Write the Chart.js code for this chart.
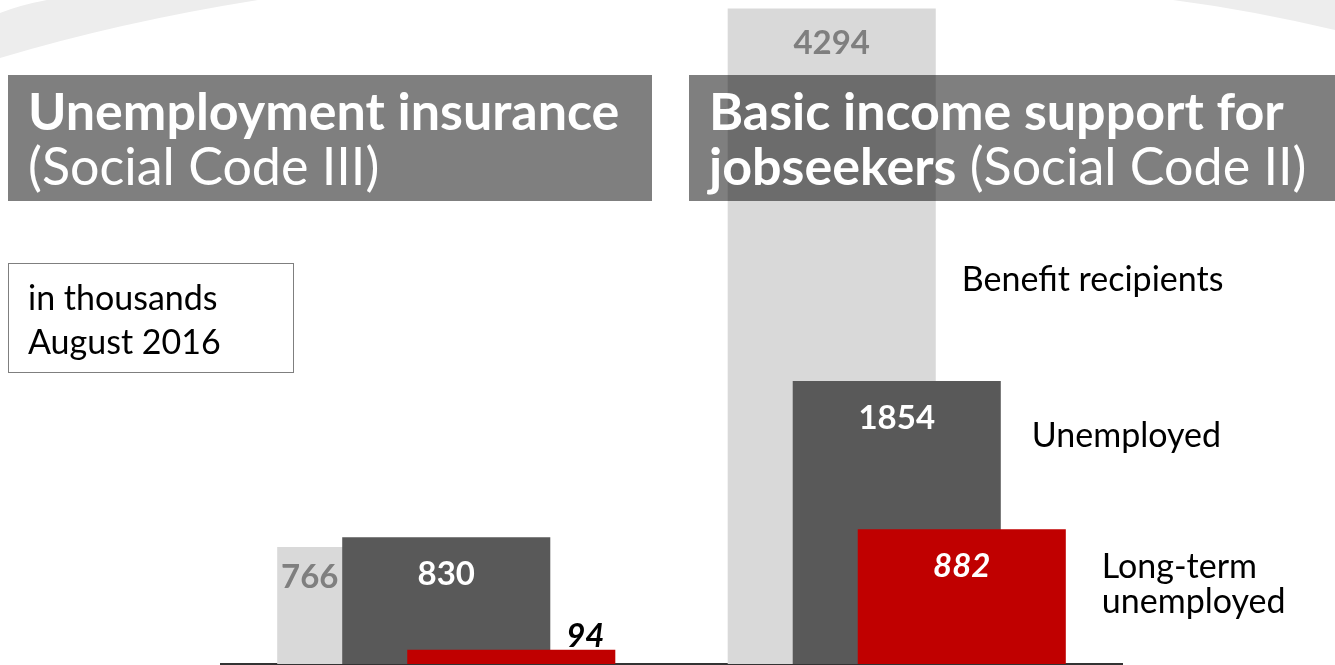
<!DOCTYPE html>
<html>
<head>
<meta charset="utf-8">
<script src="https://cdn.jsdelivr.net/npm/chart.js@4/dist/chart.umd.min.js"></script>
<style>
  body { margin: 0; background: #fff; font-family: Lato, "Open Sans", sans-serif; }
  #wrap { position: relative; width: 1335px; height: 665px; overflow: hidden; }
  #chart { position: absolute; left: 0; top: 0; }
  .title-box {
    position: absolute; top: 75px; height: 126px;
    background: rgba(0, 0, 0, 0.5); color: #fff;
    font-size: 52px; line-height: 55px; box-sizing: border-box;
    padding: 8px 0 0 20px; white-space: nowrap;
  }
  .title-box b { font-weight: 700; }
  #box-left { left: 8px; width: 644px; }
  #box-right { left: 689px; width: 646px; }
  #note {
    position: absolute; left: 8px; top: 263px; width: 286px; height: 110px;
    border: 1px solid #7f7f7f; box-sizing: border-box;
    font-size: 34px; line-height: 44px; color: #000; padding: 11px 0 0 19px;
  }
</style>
</head>
<body>
<div id="wrap">
  <canvas id="chart" width="1335" height="665"></canvas>
  <div class="title-box" id="box-left"><b>Unemployment insurance</b><br>(Social Code III)</div>
  <div class="title-box" id="box-right"><b>Basic income support for<br>jobseekers</b> (Social Code II)</div>
  <div id="note">in thousands<br>August 2016</div>
</div>
<script>
// data (in thousands, August 2016)
const groups = ['Unemployment insurance', 'Basic income support for jobseekers'];
const recipients = [766, 4294];
const unemployed = [830, 1854];
const longTerm = [94, 882];
const seriesNames = ['Benefit recipients', 'Unemployed', ['Long-term', 'unemployed']];

// light swooshes in the top corners of the slide
const backdrop = {
    id: 'backdrop',
    beforeDraw(chart) {
        const ctx = chart.ctx;
        ctx.save();
        ctx.fillStyle = '#ededed';
        ctx.beginPath();
        ctx.moveTo(0, 13);
        ctx.quadraticCurveTo(20, 5, 47, 0);
        ctx.lineTo(258, 0);
        ctx.quadraticCurveTo(120, 22, 0, 58);
        ctx.closePath();
        ctx.fill();
        ctx.beginPath();
        ctx.moveTo(1173, 0);
        ctx.lineTo(1335, 0);
        ctx.lineTo(1335, 30);
        ctx.quadraticCurveTo(1250, 10, 1173, 0);
        ctx.closePath();
        ctx.fill();
        ctx.restore();
    }
};

// draw the datasets first-to-last so later series sit on top
const drawOrder = {
    id: 'drawOrder',
    beforeDatasetsDraw(chart) {
        chart.data.datasets.forEach((ds, i) => {
            chart.getDatasetMeta(i).controller.draw();
        });
        return false;
    }
};

// value labels and series names
const barLabels = {
    id: 'barLabels',
    afterDraw(chart) {
        const ctx = chart.ctx;
        const bars = chart.data.datasets.map((d, i) => chart.getDatasetMeta(i).data);
        ctx.save();
        ctx.textAlign = 'center';
        ctx.textBaseline = 'middle';
        chart.data.datasets.forEach((ds, i) => {
            ds.data.forEach((v, j) => {
                const b = bars[i][j];
                const left = b.x - b.width / 2, right = b.x + b.width / 2;
                let x = b.x, y = b.y + 37, color = '#fff', style = 'bold';
                if (i === 0) {
                    color = '#7f7f7f';
                    if (j === 0) {
                        const next = bars[1][j];
                        x = (left + next.x - next.width / 2) / 2;
                        y = next.y + 40;
                    } else {
                        y = b.y + 35;
                    }
                } else if (i === 2) {
                    style = 'italic bold';
                    if (j === 0) {
                        x = right - 30;
                        y = b.y - 13;
                        color = '#000';
                    }
                }
                ctx.fillStyle = color;
                ctx.font = style + ' 33px Lato, "Open Sans", sans-serif';
                ctx.fillText(String(v), x, y);
            });
        });
        // series names beside the right group
        ctx.textAlign = 'left';
        ctx.fillStyle = '#000';
        ctx.font = '34px Lato, "Open Sans", sans-serif';
        const last = groups.length - 1;
        const offs = [{ dx: 26, y: 280 }, { dx: 31, dy: 55 }, { dx: 36, dy: 38 }];
        seriesNames.forEach((name, i) => {
            const b = bars[i][last];
            const x = b.x + b.width / 2 + offs[i].dx;
            const y = offs[i].y !== undefined ? offs[i].y : b.y + offs[i].dy;
            const lines = Array.isArray(name) ? name : [name];
            lines.forEach((t, k) => ctx.fillText(t, x, y + k * 35));
        });
        ctx.restore();
    }
};

const ctx = document.getElementById('chart').getContext('2d');
const chart = new Chart(ctx, {
    type: 'bar',
    data: {
        labels: groups,
        datasets: [{
            label: 'Benefit recipients',
            data: recipients,
            backgroundColor: '#d9d9d9'
        }, {
            label: 'Unemployed',
            data: unemployed,
            backgroundColor: '#595959'
        }, {
            label: 'Long-term unemployed',
            data: longTerm,
            backgroundColor: '#c00000'
        }]
    },
    options: {
        responsive: false,
        animation: false,
        categoryPercentage: 0.433,
        barPercentage: 3.2,
        layout: {
            padding: { left: 221, right: 213, top: 0, bottom: 0 }
        },
        plugins: {
            legend: { display: false },
            tooltip: { enabled: false }
        },
        scales: {
            x: {
                grid: { display: false },
                ticks: { display: false },
                border: { display: true, color: '#333', width: 2 },
                afterFit(scale) { scale.height = 1; }
            },
            y: {
                display: false,
                min: 0,
                max: 4350
            }
        }
    },
    plugins: [backdrop, drawOrder, barLabels]
});
</script>
</body>
</html>
